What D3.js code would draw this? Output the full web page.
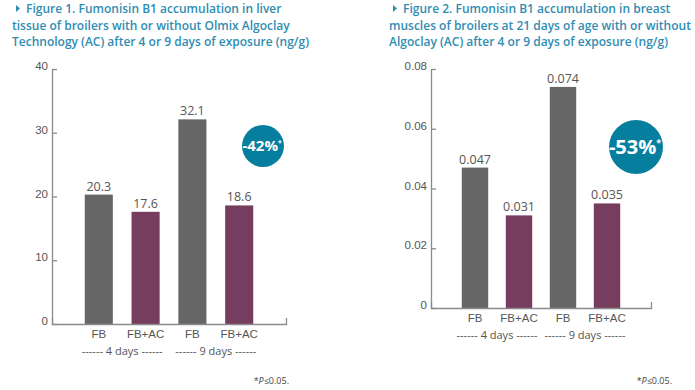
<!DOCTYPE html>
<html>
<head>
<meta charset="utf-8">
<script src="https://d3js.org/d3.v7.min.js"></script>
<style>
body { margin: 0; background: white; }
svg { font-family: 'Open Sans', sans-serif; }
.title { fill: #2f8db3; font-weight: 600; font-size: 12px; }
.tick text { fill: #555; font-size: 11.5px; }
.axis path, .axis line { stroke: #8a8a8a; stroke-width: 1.3; }
</style>
</head>
<body>
<svg width="695" height="390"></svg>
<script>
// data
const categories = ["FB", "FB+AC", "FB", "FB+AC"];
const groups = ["4 days", "9 days"];
const liverValues = [20.3, 17.6, 32.1, 18.6];
const muscleValues = [0.047, 0.031, 0.074, 0.035];
const liverTicks = [0, 10, 20, 30, 40];
const muscleTicks = [0, 0.02, 0.04, 0.06, 0.08];
const liverTitle = ["Figure 1. Fumonisin B1 accumulation in liver",
  "tissue of broilers with or without Olmix Algoclay",
  "Technology (AC) after 4 or 9 days of exposure (ng/g)"];
const muscleTitle = ["Figure 2. Fumonisin B1 accumulation in breast",
  "muscles of broilers at 21 days of age with or without",
  "Algoclay (AC) after 4 or 9 days of exposure (ng/g)"];
const reductions = ["-42%", "-53%"];

const barColors = ["#666666", "#763d5e", "#666666", "#763d5e"];
const svg = d3.select("svg");

function drawChart(opt) {
  const g = svg.append("g");
  const idx = d3.range(opt.values.length);

  // title
  const t = g.append("text").attr("class", "title");
  opt.title.forEach((line, i) => {
    t.append("tspan")
      .attr("x", i == 0 ? opt.titleX + 14 : opt.titleX)
      .attr("y", 13 + i * 16.5)
      .text(line);
  });
  g.append("path")
    .attr("d", `M${opt.titleX + 4},5 L${opt.titleX + 8},8.5 L${opt.titleX + 4},12 Z`)
    .attr("fill", "#2f8db3");

  const x = d3.scaleBand().domain(idx).range([opt.x0, opt.x1])
    .paddingInner(0.4).paddingOuter(0.7);
  const y = d3.scaleLinear().domain([0, d3.max(opt.ticks)]).range([opt.yBottom, 69]);

  g.selectAll("rect.bar").data(idx).enter().append("rect")
    .attr("class", "bar")
    .attr("x", i => x(i))
    .attr("y", i => y(opt.values[i]))
    .attr("width", x.bandwidth())
    .attr("height", i => y(0) - y(opt.values[i]))
    .attr("fill", i => barColors[i]);

  g.selectAll("text.val").data(idx).enter().append("text")
    .attr("class", "val")
    .attr("x", i => x(i) + x.bandwidth() / 2)
    .attr("y", i => y(opt.values[i]) - 4)
    .attr("text-anchor", "middle")
    .attr("fill", "#555")
    .style("font-size", "12.5px")
    .text(i => opt.fmtVal(opt.values[i]));

  // y axis
  const ya = g.append("g").attr("class", "axis")
    .attr("transform", `translate(${opt.x0},0)`)
    .call(d3.axisLeft(y).tickValues(opt.ticks).tickFormat(opt.fmtTick)
      .tickSizeInner(-5).tickSizeOuter(0).tickPadding(4));
  ya.selectAll(".tick text").attr("dy", "0.05em");

  // x axis
  const xa = g.append("g").attr("class", "axis")
    .attr("transform", `translate(0,${opt.yBottom})`)
    .call(d3.axisBottom(x).tickFormat(i => categories[i])
      .tickSizeInner(0).tickSizeOuter(-6).tickPadding(6));
  xa.selectAll(".tick text").style("font-size", "11.5px");

  groups.forEach((lab, k) => {
    g.append("text")
      .attr("x", (x(2 * k) + x(2 * k + 1) + x.bandwidth()) / 2)
      .attr("y", opt.yBottom + 31)
      .attr("text-anchor", "middle")
      .attr("fill", "#555")
      .style("font-size", "11px")
      .text("------ " + lab + " ------");
  });

  // reduction badge
  g.append("circle").attr("cx", opt.badge[0]).attr("cy", opt.badge[1])
    .attr("r", opt.badge[2]).attr("fill", "#067f9f");
  const bt = g.append("text")
    .attr("x", opt.badge[0] - 1).attr("y", opt.badge[1] + opt.badgeFont * 0.36)
    .attr("text-anchor", "middle").attr("fill", "white")
    .style("font-weight", "bold").style("font-size", opt.badgeFont + "px");
  bt.append("tspan").text(opt.reduction);
  bt.append("tspan").attr("dy", -opt.badgeFont * 0.4)
    .style("font-size", (opt.badgeFont * 0.45) + "px").text("*");

  // footnote
  const fn = g.append("text")
    .attr("x", opt.noteX).attr("y", 384)
    .attr("text-anchor", "end").attr("fill", "#444")
    .style("font-size", "9px");
  fn.append("tspan").text("*");
  fn.append("tspan").style("font-style", "italic").text("P");
  fn.append("tspan").text("≤0.05.");
}

drawChart({
  title: liverTitle, titleX: 12, values: liverValues, ticks: liverTicks,
  x0: 52, x1: 286, yBottom: 324,
  fmtVal: d3.format(".1f"), fmtTick: d3.format("d"),
  badge: [263, 146, 21], badgeFont: 15, reduction: reductions[0], noteX: 289
});
drawChart({
  title: muscleTitle, titleX: 389, values: muscleValues, ticks: muscleTicks,
  x0: 431, x1: 651, yBottom: 308,
  fmtVal: d3.format(".3f"), fmtTick: d => d === 0 ? "0" : d3.format(".2f")(d),
  badge: [636, 147, 27], badgeFont: 20, reduction: reductions[1], noteX: 672
});
</script>
</body>
</html>
